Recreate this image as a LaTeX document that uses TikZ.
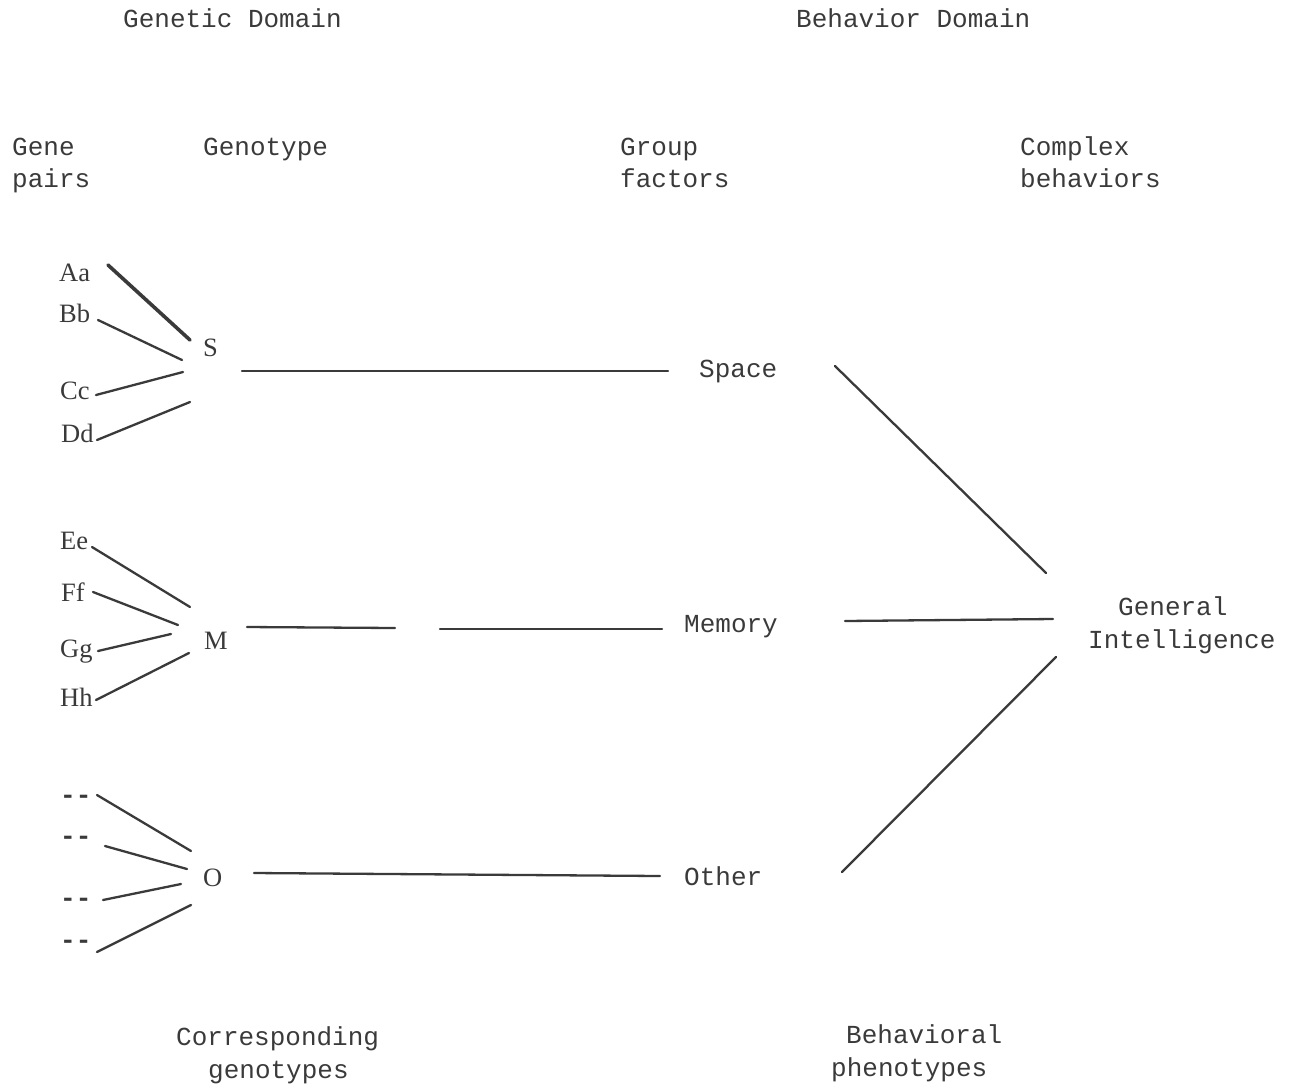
\documentclass[tikz,border=0pt]{standalone}
\usepackage{fontspec}
\setmainfont{Liberation Serif}
\newfontfamily\tw{Liberation Mono}
\definecolor{ink}{HTML}{3A3A3A}
\begin{document}
\begin{tikzpicture}[x=1pt,y=-1pt,
  mono/.style={font=\tw\fontsize{26}{32}\selectfont, text=ink, inner sep=0pt, anchor=base west},
  serif/.style={font=\fontsize{26.5}{30}\selectfont, text=ink, inner sep=0pt, anchor=base west},
  dashlbl/.style={font=\tw\bfseries\fontsize{26}{32}\selectfont, text=ink, inner sep=0pt, anchor=base west},
  link/.style={draw=ink, line width=2.3pt, line cap=round},
  heavy/.style={draw=ink, line width=3.6pt, line cap=round},
]
\useasboundingbox (0,0) rectangle (1293,1088);

% headings
\node[mono] (gdom) at (123,27) {Genetic Domain};
\node[mono] (bdom) at (796,27) {Behavior Domain};
\node[mono] (gene) at (12,155) {Gene};
\node[mono] (pairs) at (12,187) {pairs};
\node[mono] (gtype) at (203,155) {Genotype};
\node[mono] (group) at (620,155) {Group};
\node[mono] (factors) at (620,187) {factors};
\node[mono] (complex) at (1020,155) {Complex};
\node[mono] (behaviors) at (1020,187) {behaviors};

% group factors and complex behavior
\node[mono] (space) at (699,377) {Space};
\node[mono] (memory) at (684,632) {Memory};
\node[mono] (other) at (684,885) {Other};
\node[mono] (general) at (1118,615) {General};
\node[mono] (intel) at (1088,648) {Intelligence};

% footers
\node[mono] (corr) at (176,1045) {Corresponding};
\node[mono] (corr2) at (208,1078) {genotypes};
\node[mono] (behav) at (846,1043) {Behavioral};
\node[mono] (behav2) at (831,1076) {phenotypes};

% gene pairs
\node[serif] (Aa) at (59,281) {Aa};
\node[serif] (Bb) at (59,322) {Bb};
\node[serif] (Cc) at (60,399) {Cc};
\node[serif] (Dd) at (61,442) {Dd};
\node[serif] (S) at (203,356) {S};
\node[serif] (Ee) at (60,549) {Ee};
\node[serif] (Ff) at (61,601) {Ff};
\node[serif] (Gg) at (60,657) {Gg};
\node[serif] (Hh) at (60,706) {Hh};
\node[serif] (M) at (204,649) {M};
\node[dashlbl] (o1) at (60,803) {-{}-};
\node[dashlbl] (o2) at (60,844) {-{}-};
\node[dashlbl] (o3) at (60,906) {-{}-};
\node[dashlbl] (o4) at (60,948) {-{}-};
\node[serif] (O) at (203,886) {O};

% line end points
\coordinate (a1) at (108,265); \coordinate (a2) at (190,340);
\coordinate (b1) at (98,320);  \coordinate (b2) at (182,360);
\coordinate (c1) at (96,395);  \coordinate (c2) at (183,372);
\coordinate (d1) at (97,440);  \coordinate (d2) at (190,402);
\coordinate (e1) at (92,547);  \coordinate (e2) at (190,607);
\coordinate (f1) at (93,592);  \coordinate (f2) at (178,625);
\coordinate (g1) at (98,651);  \coordinate (g2) at (171,634);
\coordinate (h1) at (96,700);  \coordinate (h2) at (189,653);
\coordinate (p1) at (97,795);  \coordinate (p2) at (191,851);
\coordinate (q1) at (105,846); \coordinate (q2) at (187,869);
\coordinate (r1) at (103,900); \coordinate (r2) at (181,884);
\coordinate (s1) at (97,952);  \coordinate (s2) at (191,905);
\coordinate (sl1) at (242,371); \coordinate (sl2) at (668,371);
\coordinate (ml1) at (247,627); \coordinate (ml2) at (395,628);
\coordinate (ml3) at (440,629); \coordinate (ml4) at (662,629);
\coordinate (ol1) at (254,873); \coordinate (ol2) at (660,876);
\coordinate (gs1) at (835,366); \coordinate (gs2) at (1046,573);
\coordinate (gm1) at (845,621); \coordinate (gm2) at (1053,619);
\coordinate (go1) at (842,872); \coordinate (go2) at (1056,657);

\draw[heavy] (a1) -- (a2);
\draw[link] (b1) -- (b2);
\draw[link] (c1) -- (c2);
\draw[link] (d1) -- (d2);
\draw[link] (e1) -- (e2);
\draw[link] (f1) -- (f2);
\draw[link] (g1) -- (g2);
\draw[link] (h1) -- (h2);
\draw[link] (p1) -- (p2);
\draw[link] (q1) -- (q2);
\draw[link] (r1) -- (r2);
\draw[link] (s1) -- (s2);
\draw[link] (sl1) -- (sl2);
\draw[link] (ml1) -- (ml2);
\draw[link] (ml3) -- (ml4);
\draw[link] (ol1) -- (ol2);
\draw[link] (gs1) -- (gs2);
\draw[link] (gm1) -- (gm2);
\draw[link] (go1) -- (go2);
\end{tikzpicture}
\end{document}
